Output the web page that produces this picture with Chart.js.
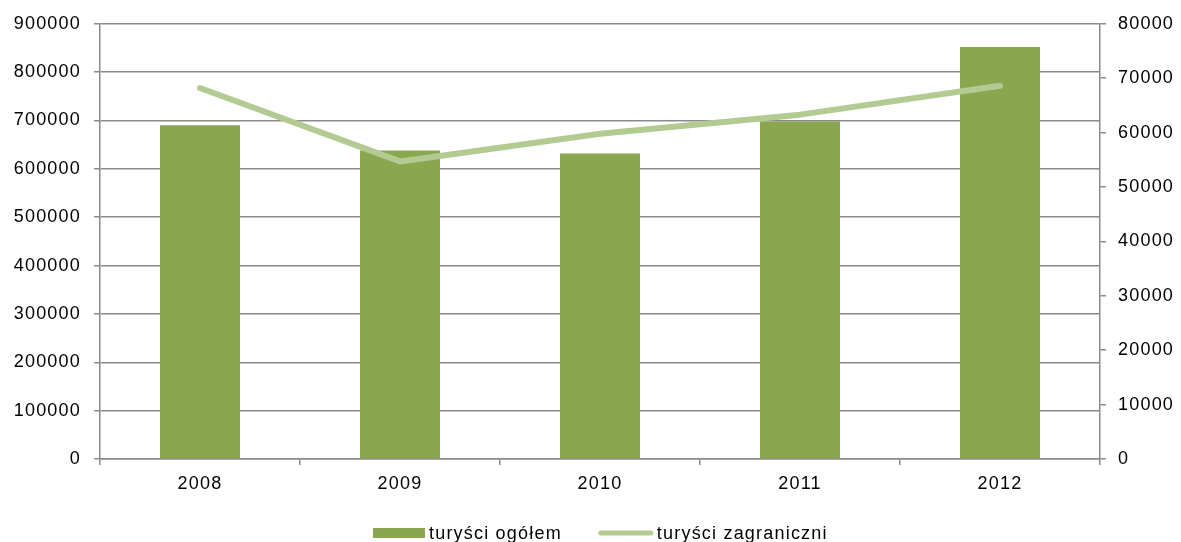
<!DOCTYPE html>
<html lang="pl">
<head>
<meta charset="utf-8">
<title>Turyści 2008-2012</title>
<script src="https://cdn.jsdelivr.net/npm/chart.js@4/dist/chart.umd.min.js"></script>
<style>
    html, body { margin: 0; padding: 0; background: #fff; }
    #wrap { width: 1181px; height: 542px; }
</style>
</head>
<body>
<div id="wrap"><canvas id="chart" width="1181" height="542"></canvas></div>
<script>
// === Data ===
const years = ['2008', '2009', '2010', '2011', '2012'];
const turysciOgolem = [690000, 638000, 632000, 698000, 852000];
const turysciZagraniczni = [68200, 54700, 59800, 63300, 68600];
const seriesNames = ['turyści ogółem', 'turyści zagraniczni'];

// === Styles ===
const BAR_COLOR = '#8aa64f';
const LINE_COLOR = '#b3cb93';
const GRID_COLOR = '#8a8a8a';
const GRID_WIDTH = 1.5;
const FONT = { family: '"Liberation Sans", Arial, sans-serif', size: 18 };
const LETTER_SPACING = '1.2px';

// plain numbers on the axes, no thousands separator
const plainNumber = value => String(value);

// slightly wider text spacing, like the office-style rendering
const spacingPlugin = {
    id: 'spacing',
    beforeUpdate(chart) { chart.ctx.letterSpacing = LETTER_SPACING; },
    beforeDraw(chart) { chart.ctx.letterSpacing = LETTER_SPACING; }
};

// legend drawn by hand: filled box for the bars, thick stroke for the line
const legendPlugin = {
    id: 'bottomLegend',
    afterDraw(chart) {
        const ctx = chart.ctx;
        const area = chart.chartArea;
        const barDs = chart.data.datasets[0];
        const lineDs = chart.data.datasets[1];
        ctx.save();
        ctx.letterSpacing = LETTER_SPACING;
        ctx.font = `${FONT.size}px ${FONT.family}`;
        ctx.fillStyle = '#000';
        ctx.textBaseline = 'alphabetic';

        const boxW = 52, lineW = 56, itemGap = 36;
        const w1 = ctx.measureText(barDs.label).width;
        const w2 = ctx.measureText(lineDs.label).width;
        const total = boxW + 4 + w1 + itemGap + lineW + 3 + w2;
        let x = Math.round((area.left + area.right) / 2 - total / 2);
        const base = chart.height - 3;

        ctx.fillStyle = barDs.backgroundColor;
        ctx.fillRect(x, base - 11, boxW, 10);
        ctx.fillStyle = '#000';
        ctx.fillText(barDs.label, x + boxW + 4, base);

        x += boxW + 4 + w1 + itemGap;
        ctx.strokeStyle = lineDs.borderColor;
        ctx.lineWidth = 5;
        ctx.lineCap = 'round';
        ctx.beginPath();
        ctx.moveTo(x + 3, base - 6);
        ctx.lineTo(x + lineW - 3, base - 6);
        ctx.stroke();
        ctx.fillText(lineDs.label, x + lineW + 3, base);
        ctx.restore();
    }
};

const ctx = document.getElementById('chart').getContext('2d');

new Chart(ctx, {
    type: 'bar',
    data: {
        labels: years,
        datasets: [{
            type: 'bar',
            label: seriesNames[0],
            data: turysciOgolem,
            backgroundColor: BAR_COLOR,
            borderWidth: 0,
            barPercentage: 0.4,
            categoryPercentage: 1.0,
            yAxisID: 'y',
            order: 2
        }, {
            type: 'line',
            label: seriesNames[1],
            data: turysciZagraniczni,
            borderColor: LINE_COLOR,
            backgroundColor: LINE_COLOR,
            borderWidth: 6,
            borderCapStyle: 'round',
            borderJoinStyle: 'round',
            pointRadius: 0,
            tension: 0,
            fill: false,
            yAxisID: 'y1',
            order: 1
        }]
    },
    options: {
        responsive: false,
        animation: false,
        layout: { padding: { top: 22, left: 0, right: 0, bottom: 0 } },
        plugins: {
            legend: { display: false },
            tooltip: { enabled: false }
        },
        scales: {
            x: {
                position: 'bottom',
                grid: {
                    offset: true,
                    drawOnChartArea: false,
                    drawTicks: true,
                    tickLength: 6,
                    color: GRID_COLOR,
                    lineWidth: GRID_WIDTH
                },
                border: { color: GRID_COLOR, width: GRID_WIDTH },
                ticks: { color: '#000', font: FONT, padding: 8, maxRotation: 0 },
                afterFit(scale) { scale.height = 83; }
            },
            y: {
                position: 'left',
                min: 0,
                max: 900000,
                grid: { color: GRID_COLOR, lineWidth: GRID_WIDTH, tickLength: 6 },
                border: { color: GRID_COLOR, width: GRID_WIDTH },
                ticks: { stepSize: 100000, color: '#000', font: FONT, padding: 13, callback: plainNumber },
                afterFit(scale) { scale.width = 100; }
            },
            y1: {
                position: 'right',
                min: 0,
                max: 80000,
                grid: { drawOnChartArea: false, color: GRID_COLOR, lineWidth: GRID_WIDTH, tickLength: 6 },
                border: { color: GRID_COLOR, width: GRID_WIDTH },
                ticks: { stepSize: 10000, color: '#000', font: FONT, padding: 12, callback: plainNumber },
                afterFit(scale) { scale.width = 81; }
            }
        }
    },
    plugins: [spacingPlugin, legendPlugin]
});
</script>
</body>
</html>
